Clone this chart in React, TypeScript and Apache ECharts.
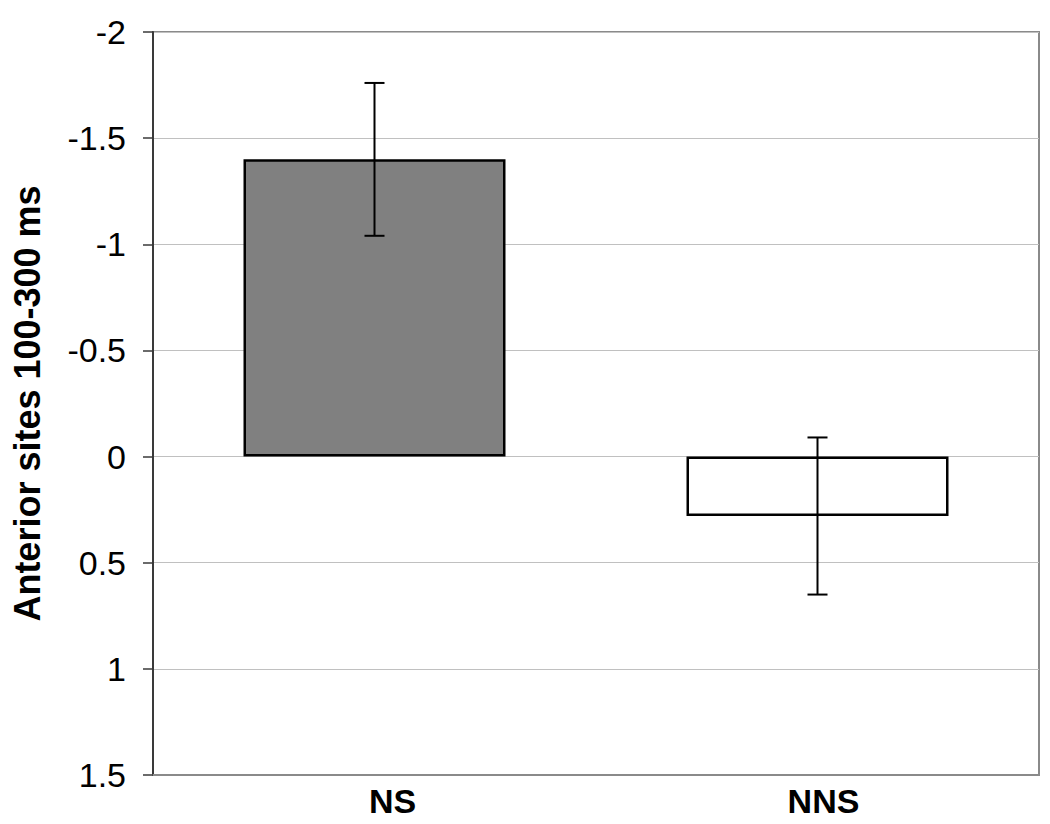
import React, { useEffect, useRef } from "react";
import * as echarts from "echarts";

const categories = ["NS", "NNS"];
const values = [-1.4, 0.28];
const errLow = [-1.04, 0.65];
const errHigh = [-1.76, -0.09];
const barColors = ["#808080", "#ffffff"];
const yAxisTitle = "Anterior sites 100-300 ms";

export default function App() {
  const ref = useRef<HTMLDivElement>(null);
  useEffect(() => {
    if (!ref.current) return;
    const chart = echarts.init(ref.current, undefined, { renderer: "svg" });
    const font = "Arial, 'Liberation Sans', Helvetica, sans-serif";
    const labelShift = [36, 12];
    chart.setOption({
      animation: false,
      backgroundColor: "#ffffff",
      grid: {
        left: 153,
        top: 32,
        right: 11,
        bottom: 49,
        show: true,
        borderColor: "#8a8a8a",
        borderWidth: 2,
        backgroundColor: "transparent",
      },
      xAxis: {
        type: "category",
        data: categories.map((c, i) => ({
          value: c,
          textStyle: { padding: [0, 0, 0, labelShift[i]] },
        })),
        axisLine: { show: true, onZero: false, lineStyle: { color: "#8a8a8a", width: 2 } },
        axisTick: { show: false },
        axisLabel: {
          margin: 9,
          fontFamily: font,
          fontWeight: "bold",
          fontSize: 34,
          color: "#000",
        },
      },
      yAxis: {
        type: "value",
        inverse: true,
        min: -2,
        max: 1.5,
        interval: 0.5,
        name: yAxisTitle,
        nameLocation: "middle",
        nameGap: 108,
        nameTextStyle: {
          fontFamily: font,
          fontWeight: "bold",
          fontSize: 36,
          color: "#000",
        },
        axisLine: { show: true, lineStyle: { color: "#3a3a3a", width: 2 } },
        axisTick: {
          show: true,
          inside: false,
          length: 10,
          lineStyle: { color: "#3a3a3a", width: 1.5 },
        },
        axisLabel: {
          margin: 27,
          fontFamily: font,
          fontSize: 34,
          color: "#000",
        },
        splitLine: { show: true, lineStyle: { color: "#c0c0c0", width: 1 } },
      },
      series: [
        {
          type: "bar",
          data: values.map((v, i) => ({
            value: v,
            itemStyle: { color: barColors[i], borderColor: "#000", borderWidth: 2.5 },
          })),
          barWidth: 262,
        },
        {
          type: "custom",
          data: categories.map((_, i) => [i, errLow[i], errHigh[i]]),
          z: 10,
          renderItem: (params: any, api: any) => {
            const x = api.value(0);
            const lo = api.coord([x, api.value(1)]);
            const hi = api.coord([x, api.value(2)]);
            const half = 10;
            const style = { stroke: "#000", lineWidth: 2 };
            return {
              type: "group",
              children: [
                { type: "line", shape: { x1: lo[0], y1: lo[1], x2: hi[0], y2: hi[1] }, style },
                { type: "line", shape: { x1: lo[0] - half, y1: lo[1], x2: lo[0] + half, y2: lo[1] }, style },
                { type: "line", shape: { x1: hi[0] - half, y1: hi[1], x2: hi[0] + half, y2: hi[1] }, style },
              ],
            };
          },
        },
      ],
    });
    return () => chart.dispose();
  }, []);
  return (
    <div
      ref={ref}
      style={{ position: "absolute", left: 0, top: 0, width: 1050, height: 824 }}
    />
  );
}
